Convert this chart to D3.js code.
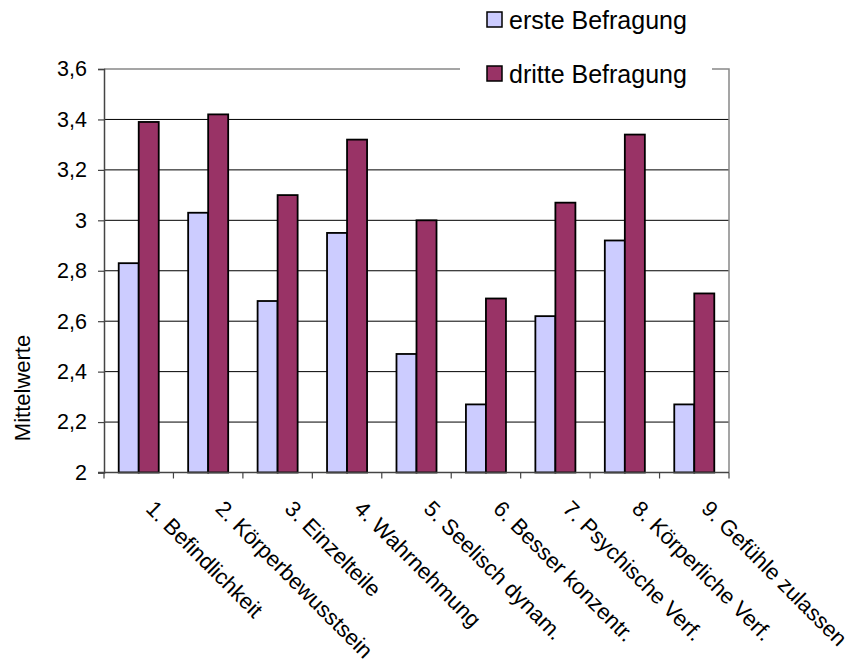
<!DOCTYPE html>
<html>
<head>
<meta charset="utf-8">
<script src="https://cdn.jsdelivr.net/npm/d3@7"></script>
<style>
  html, body { margin: 0; padding: 0; background: #fff; }
  svg text { font-family: "Liberation Sans", Arial, sans-serif; fill: #000; }
</style>
</head>
<body>
<svg id="chart" width="852" height="667"></svg>
<script>
// Mean scores per item, first and third survey
const categories = [
  "1. Befindlichkeit", "2. Körperbewusstsein", "3. Einzelteile",
  "4. Wahrnehmung", "5. Seelisch dynam.", "6. Besser konzentr.",
  "7. Psychische Verf.", "8. Körperliche Verf.", "9. Gefühle zulassen"
];
const seriesNames = ["erste Befragung", "dritte Befragung"];
const ersteBefragung  = [2.83, 3.03, 2.68, 2.95, 2.47, 2.27, 2.62, 2.92, 2.27];
const dritteBefragung = [3.39, 3.42, 3.10, 3.32, 3.00, 2.69, 3.07, 3.34, 2.71];
const yTicks = [2, 2.2, 2.4, 2.6, 2.8, 3, 3.2, 3.4, 3.6];
const colors = ["#CCCCFF", "#993366"];

const svg = d3.select("#chart");
const plot = { left: 104, right: 729, top: 69, bottom: 472.5 };

const x = d3.scaleBand()
  .domain(categories)
  .range([plot.left, plot.right])
  .paddingInner(0)
  .paddingOuter(0);

// two adjacent bars in the middle of each category slot
const xSub = d3.scaleBand()
  .domain(seriesNames)
  .range([0, x.bandwidth()])
  .paddingInner(0)
  .paddingOuter(0.735);

const y = d3.scaleLinear().domain([2, 3.6]).range([plot.bottom, plot.top]);

// horizontal gridlines
svg.append("g")
  .selectAll("line")
  .data(yTicks.filter(t => t > 2 && t < 3.6))
  .join("line")
  .attr("x1", plot.left).attr("x2", plot.right)
  .attr("y1", d => y(d)).attr("y2", d => y(d))
  .attr("stroke", "#000").attr("stroke-width", 1);

// plot frame top and right
svg.append("path")
  .attr("d", `M${plot.left},${y(3.6)}H${plot.right}V${plot.bottom}`)
  .attr("fill", "none").attr("stroke", "#888").attr("stroke-width", 1.5);

// bars
const rows = categories.map((c, i) => ({ c, vals: [ersteBefragung[i], dritteBefragung[i]] }));
const groups = svg.append("g").selectAll("g")
  .data(rows).join("g")
  .attr("transform", d => `translate(${x(d.c)},0)`);
groups.selectAll("rect")
  .data(d => d.vals.map((v, k) => ({ v, k })))
  .join("rect")
  .attr("x", d => xSub(seriesNames[d.k]))
  .attr("width", xSub.bandwidth())
  .attr("y", d => y(d.v))
  .attr("height", d => y(2) - y(d.v))
  .attr("fill", d => colors[d.k])
  .attr("stroke", "#000").attr("stroke-width", 1.8);

// y axis
const yAxis = svg.append("g")
  .attr("transform", `translate(${plot.left},0)`)
  .call(d3.axisLeft(y).tickValues(yTicks).tickSize(6).tickPadding(11)
    .tickFormat(d => d3.format("~g")(d).replace(".", ",")));
yAxis.select(".domain").attr("stroke", "#444").attr("stroke-width", 1.5);
yAxis.selectAll(".tick line").attr("stroke", "#444").attr("stroke-width", 1.2);
yAxis.selectAll(".tick text").attr("font-size", 21.5).attr("font-family", "Liberation Sans, Arial, sans-serif");

// x axis with ticks at category boundaries
const xAxis = svg.append("g").attr("transform", `translate(0,${plot.bottom})`);
xAxis.append("line")
  .attr("x1", plot.left - 6).attr("x2", plot.right)
  .attr("stroke", "#444").attr("stroke-width", 1.5);
const boundaries = categories.map(c => x(c)).concat([x(categories[categories.length - 1]) + x.bandwidth()]);
xAxis.selectAll("line.tk")
  .data(boundaries).join("line").attr("class", "tk")
  .attr("x1", d => d).attr("x2", d => d)
  .attr("y1", 0).attr("y2", 6)
  .attr("stroke", "#444").attr("stroke-width", 1.2);

// rotated category labels
svg.append("g").selectAll("text")
  .data(categories).join("text")
  .attr("transform", d => `translate(${x(d) + x.bandwidth() / 2 + 6},${plot.bottom + 37.5}) rotate(45)`)
  .attr("font-size", 22)
  .text(d => d);

// y axis title
svg.append("text")
  .attr("transform", `translate(30,388) rotate(-90)`)
  .attr("text-anchor", "middle")
  .attr("font-size", 22)
  .text("Mittelwerte");

// legend
const legend = svg.append("g");
legend.append("rect")
  .attr("x", 460).attr("y", 0).attr("width", 252).attr("height", 92)
  .attr("fill", "#fff");
const legendY = [12, 66];
seriesNames.forEach((name, k) => {
  legend.append("rect")
    .attr("x", 487).attr("y", legendY[k]).attr("width", 15).attr("height", 15)
    .attr("fill", colors[k]).attr("stroke", "#000").attr("stroke-width", 1.5);
  legend.append("text")
    .attr("x", 509).attr("y", legendY[k] + 16.5)
    .attr("font-size", 25)
    .text(name);
});
</script>
</body>
</html>
